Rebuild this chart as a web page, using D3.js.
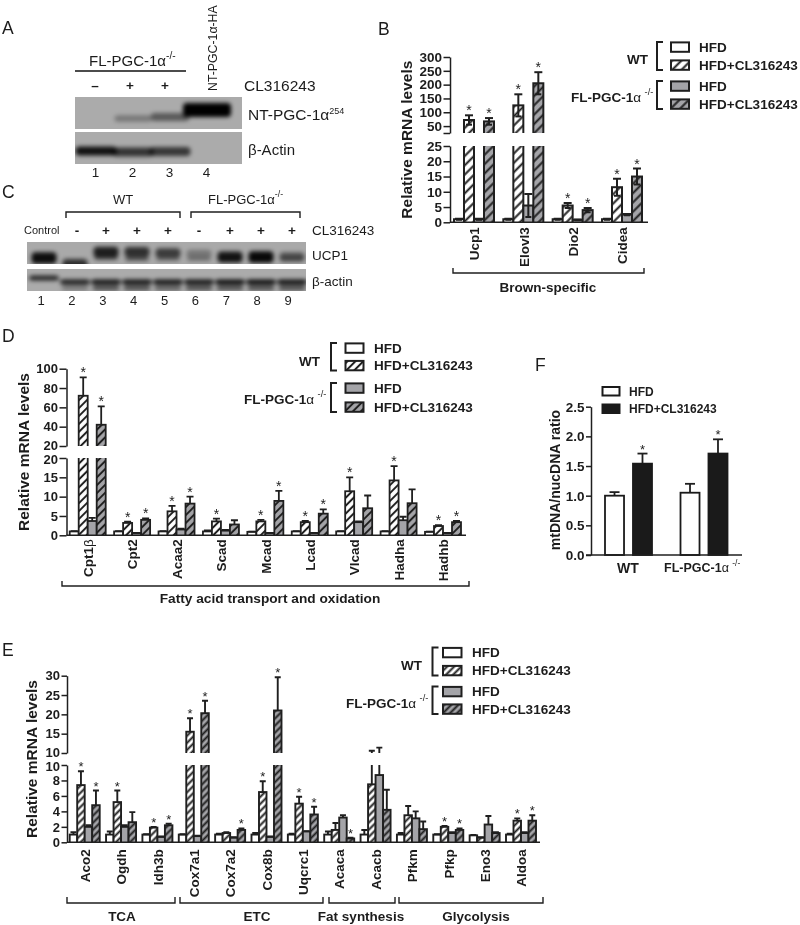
<!DOCTYPE html>
<html><head><meta charset="utf-8">
<script src="https://cdnjs.cloudflare.com/ajax/libs/d3/7.8.5/d3.min.js"></script>
<style>
html,body{margin:0;padding:0;background:#fff}
svg{display:block;opacity:.999}
text{font-family:"Liberation Sans",Arial,sans-serif;fill:#1c1c1c}
</style></head><body><div id="c"></div>
<script>
// ---------- DATA ----------
const seriesKeys = ["wtHfd","wtCl","koHfd","koCl"];
const legendLabels = ["HFD","HFD+CL316243"];

const bGenes = ["Ucp1","Elovl3","Dio2","Cidea"];
const bMeans = [[1,72,1,67],[1,125,5.5,205],[1,5.5,0.8,4],[1,11.5,2.5,15]];
const bErrs  = [[0.2,17,0.2,12],[0.2,40,3.8,40],[0.2,0.8,0.1,0.7],[0.2,2.8,0.2,2.6]];
const bStars = [[0,1,0,1],[0,1,0,1],[0,1,0,1],[0,1,0,1]];
const bTicksHigh = [25,50,100,150,200,250,300];
const bTicksLow = [0,5,10,15,20,25];

const dGenes = ["Cpt1β","Cpt2","Acaa2","Scad","Mcad","Lcad","Vlcad","Hadha","Hadhb"];
const dMeans = [[1,72,3.7,42],[1,3.2,0.6,4],[1,6.2,1.5,8.2],[1,3.6,1.2,2.8],[0.9,3.6,0.6,8.9],[1,3.4,0.6,5.6],[1,11.4,3.4,7],[1,14.2,3.9,8.3],[0.9,2.4,0.6,3.4]];
const dErrs  = [[0.1,19,0.8,19],[0.1,0.3,0.05,0.4],[0.1,1.4,0.2,1.8],[0.3,0.7,0.2,1.1],[0.05,0.4,0.05,2.6],[0.1,0.3,0.05,1.1],[0.1,3.6,0.2,3.3],[0.1,3.7,0.9,3.6],[0.05,0.2,0.05,0.3]];
const dStars = [[0,1,0,1],[0,1,0,1],[0,1,0,1],[0,1,0,0],[0,1,0,1],[0,1,0,1],[0,1,0,0],[0,1,0,0],[0,1,0,1]];
const dTicksHigh = [20,40,60,80,100];
const dTicksLow = [0,5,10,15,20];

const eGenes = ["Aco2","Ogdh","Idh3b","Cox7a1","Cox7a2","Cox8b","Uqcrc1","Acaca","Acacb","Pfkm","Pfkp","Eno3","Aldoa"];
const eMeans = [[1,7.4,2,4.8],[1,5.2,2,2.6],[1,1.9,0.7,2.2],[1,15.5,0.8,20.3],[1,1.2,0.6,1.6],[1,6.5,0.7,21],[1,5,1.4,3.6],[1,1.6,3.2,0.5],[1,7.5,8.7,4.2],[1,3.5,3.1,1.7],[1,2,1.2,1.6],[0.9,0.6,2.3,1.2],[1,2.8,1.2,2.8]];
const eErrs  = [[0.3,1.8,0.2,1.9],[0.4,1.5,0.2,1.3],[0.05,0.1,0.05,0.2],[0.05,3.5,0.05,3.2],[0.1,0.1,0.05,0.2],[0.2,1.4,0.05,8.6],[0.1,0.9,0.05,1],[0.4,0.9,0.3,0.1],[0.6,3.1,2.7,2.6],[0.2,1.2,0.9,1],[0.05,0.1,0.1,0.2],[0.05,0.05,1.1,0.1],[0.1,0.3,0.1,0.7]];
const eStars = [[0,1,0,1],[0,1,0,0],[0,1,0,1],[0,1,0,1],[0,0,0,1],[0,1,0,1],[0,1,0,1],[0,0,0,1],[0,0,0,0],[0,0,0,0],[0,1,0,1],[0,0,0,0],[0,1,0,1]];
const eTicksHigh = [10,15,20,25,30];
const eTicksLow = [0,2,4,6,8,10];

const fGroups = ["WT","FL-PGC-1α"];
const fSeries = ["HFD","HFD+CL316243"];
const fMeans = [[1.0,1.54],[1.05,1.71]];
const fErrs  = [[0.06,0.17],[0.15,0.24]];
const fStars = [[0,1],[0,1]];
const fTicks = [0,0.5,1,1.5,2,2.5];

// blot band intensities per lane (0..1)
const blotA1 = [0,0.3,0.48,1];
const blotA2 = [0.9,0.7,0.68,0];
const blotC1 = [0.92,0.72,0.82,0.72,0.65,0.3,0.88,0.95,0.55];
const blotC1b = [0,0,0.5,0.5,0.35,0.3,0.3,0.4,0.2];
const blotC2 = [0.8,0.85,0.9,0.9,0.9,0.9,0.95,0.95,0.92];
const blotC2b = [0,0.3,0.55,0.55,0.45,0.55,0.55,0.55,0.55];
const aMarks = ["–","+","+"];
const cMarks = ["-","+","+","+","-","+","+","+"];

// ---------- SETUP ----------
const W=800,H=925,INK="#1f1f1f",GRAY="#a4a4a8";
const svg=d3.select("#c").append("svg").attr("width",W).attr("height",H).attr("viewBox",[0,0,W,H]);
svg.append("rect").attr("width",W).attr("height",H).attr("fill","#fff");
const defs=svg.append("defs");
function hatch(id,bg,p0,sw){
  const p=defs.append("pattern").attr("id",id).attr("patternUnits","userSpaceOnUse")
    .attr("width",p0).attr("height",p0).attr("patternTransform","rotate(45)");
  p.append("rect").attr("width",p0).attr("height",p0).attr("fill",bg);
  p.append("line").attr("x1",p0/2).attr("x2",p0/2).attr("y1",0).attr("y2",p0).attr("stroke",INK).attr("stroke-width",sw);
}
// one pair of hatch fills per panel
function hatchFills(tag,p0,sw){
  hatch("hW"+tag,"#fff",p0,sw); hatch("hG"+tag,GRAY,p0,sw);
  return ["#fff",`url(#hW${tag})`,GRAY,`url(#hG${tag})`];
}
const fillsB=hatchFills("B",6.6,2), fillsD=hatchFills("D",5.6,2), fillsE=hatchFills("E",5,2);
defs.append("filter").attr("id","blur").attr("x","-30%").attr("y","-60%").attr("width","160%").attr("height","220%")
  .append("feGaussianBlur").attr("stdDeviation",2.3);

function txt(x,y,s,o={}){
  const t=svg.append("text").attr("x",x).attr("y",y).text(s)
    .attr("font-size",o.size||12).attr("text-anchor",o.anchor||"start").attr("dominant-baseline","central");
  if(o.bold)t.attr("font-weight",700);
  if(o.rot!=null)t.attr("transform",`rotate(${o.rot},${x},${y})`);
  return t;
}
// FL-PGC-1α-/- label, with the Greek letter and superscript in a light weight
function koLabel(x,y,o={}){
  const t=svg.append("text").attr("x",x).attr("y",y).attr("font-size",o.size||13.5)
    .attr("text-anchor",o.anchor||"start").attr("dominant-baseline","central");
  t.append("tspan").attr("font-weight",o.light?400:700).text("FL-PGC-1");
  t.append("tspan").attr("font-weight",400).text("α");
  t.append("tspan").attr("font-weight",400).attr("font-size",(o.size||13.5)*.68).attr("dy",-5).attr("dx",o.light?0:1).text(o.light?"-/-":" -/-");
  return t;
}
function bracketGroup(x0,x1,y,tick){
  svg.append("path").attr("d",d3.line()([[x0,y+tick],[x0,y],[x1,y],[x1,y+tick]]))
    .attr("fill","none").attr("stroke",INK).attr("stroke-width",1.4);
}

let clipN=0;
function clip(x,y,w,h){
  const id="cp"+(clipN++);
  defs.append("clipPath").attr("id",id).append("rect").attr("x",x).attr("y",y).attr("width",w).attr("height",h);
  return `url(#${id})`;
}

// ---------- BROKEN-AXIS GROUPED BARS ----------
function barPanel(c){
  const x0=d3.scalePoint().domain(c.genes).range([c.first,c.last]);
  const half=c.barW*2;
  const x1=d3.scaleBand().domain(seriesKeys).range([-half,half]);
  const high=d3.scaleLinear().domain(c.highDomain).range(c.highRange);
  const low=d3.scaleLinear().domain(c.lowDomain).range(c.lowRange);
  const rows=c.genes.flatMap((g,i)=>seriesKeys.map((s,j)=>({g,s,j,v:c.means[i][j],e:c.errs[i][j],star:c.stars[i][j]})));
  const cx=d=>x0(d.g)+x1(d.s)+x1.bandwidth()/2;
  const sw=c.sw||1.8;

  [[high,c.highTicks,c.highLabelMin],[low,c.lowTicks,-1]].forEach(([sc,ticks,min])=>{
    const range=sc.range();
    const isLow=sc===low;
    const top=isLow?range[1]:range[1]-16,bottom=range[0];
    const g=svg.append("g").attr("clip-path",clip(c.axisX+1,top,W,bottom-top));
    g.selectAll("rect").data(rows).join("rect")
      .attr("x",d=>x0(d.g)+x1(d.s)).attr("width",x1.bandwidth())
      .attr("y",d=>Math.min(sc(d.v),bottom+6)).attr("height",d=>Math.max(0,bottom+6-sc(d.v)))
      .attr("fill",d=>c.fills[d.j]).attr("stroke",INK).attr("stroke-width",sw);
    g.selectAll("line.stem").data(rows).join("line").attr("class","stem")
      .attr("x1",cx).attr("x2",cx)
      .attr("y1",d=>sc(c.both?d.v-d.e:d.v)).attr("y2",d=>sc(d.v+d.e))
      .attr("stroke",INK).attr("stroke-width",sw);
    if(c.both){
      g.selectAll("line.low").data(rows).join("line").attr("class","low")
        .attr("x1",d=>cx(d)-3).attr("x2",d=>cx(d)+3)
        .attr("y1",d=>sc(d.v-d.e)).attr("y2",d=>sc(d.v-d.e)).attr("stroke",INK).attr("stroke-width",sw);
    }
    g.selectAll("line.cap").data(rows).join("line").attr("class","cap")
      .attr("x1",d=>cx(d)-c.capW).attr("x2",d=>cx(d)+c.capW)
      .attr("y1",d=>sc(d.v+d.e)).attr("y2",d=>sc(d.v+d.e)).attr("stroke",INK).attr("stroke-width",sw);

    const ax=d3.axisLeft(sc).tickValues(ticks).tickSize(c.tick).tickSizeOuter(0).tickPadding(1.5)
      .tickFormat(v=>v>=min?d3.format("d")(v):"");
    const a=svg.append("g").attr("transform",`translate(${c.axisX},0)`).call(ax);
    a.selectAll("path,line").attr("stroke",INK).attr("stroke-width",1.5);
    a.selectAll("text").attr("font-size",c.tickFont).attr("font-weight",700).attr("fill",INK)
      .attr("font-family",'"Liberation Sans",Arial,sans-serif');
    // keep the two labels that meet at the axis break apart
    if(c.nudge){
      const edge=isLow?c.lowDomain[1]:c.highDomain[0];
      a.selectAll(".tick").filter(v=>v===edge).select("text").attr("y",isLow?c.nudge:-c.nudge);
    }
  });
  svg.selectAll(null).data(rows.filter(d=>d.star)).join("text")
    .attr("x",cx)
    .attr("y",d=>{const t=d.v+d.e;return (t>c.lowDomain[1]?high(t):low(t));})
    .attr("text-anchor","middle").attr("font-size",c.starSize||14).attr("fill","#333").text("*");
  svg.append("line").attr("x1",c.axisX).attr("x2",c.baseEnd).attr("y1",low(0)).attr("y2",low(0)).attr("stroke",INK).attr("stroke-width",1.6);
  const lab=svg.append("g").attr("transform",`translate(0,${low(0)})`)
    .call(d3.axisBottom(x0).tickSize(0).tickFormat(""));
  lab.select(".domain").remove();
  lab.selectAll(".tick text").each(function(g){
    const t=d3.select(this).attr("transform","rotate(-90)").attr("x",-c.labelGap).attr("y",0).attr("dy",".35em")
      .attr("text-anchor","end").attr("font-size",c.labelFont).attr("fill","#1c1c1c")
      .attr("font-family",'"Liberation Sans",Arial,sans-serif');
    const m=g.split("β");
    t.append("tspan").attr("font-weight",700).text(m[0]);
    if(m.length>1)t.append("tspan").attr("font-weight",400).text("β");
  });
  txt(c.titleX,(c.lowRange[0]+c.highRange[1])/2,"Relative mRNA levels",{size:c.titleSize,bold:true,rot:-90,anchor:"middle"});
}

function legendBlock(c){
  const fy=c.rows;
  fy.forEach((y,i)=>{
    svg.append("rect").attr("x",c.x).attr("y",y-4.6).attr("width",c.w).attr("height",9.4).attr("fill",c.fills[i]).attr("stroke",INK).attr("stroke-width",2);
    txt(c.tx,y,legendLabels[i%2],{size:13.5,bold:true});
  });
  [[0,1],[2,3]].forEach(([a,b])=>{
    svg.append("path").attr("d",d3.line()([[c.bx+6,fy[a]-5],[c.bx,fy[a]-5],[c.bx,fy[b]+5],[c.bx+6,fy[b]+5]]))
      .attr("fill","none").attr("stroke",INK).attr("stroke-width",2);
  });
  txt(c.wtX,c.wtY,"WT",{size:13.5,bold:true});
  koLabel(c.koX,c.koY);
}

// Panel B
barPanel({genes:bGenes,means:bMeans,errs:bErrs,stars:bStars,fills:fillsB,first:474,last:622,barW:10,capW:4,axisX:450,
  highDomain:[25,300],highRange:[133,57],lowDomain:[0,25],lowRange:[222.3,146],highTicks:bTicksHigh,lowTicks:bTicksLow,highLabelMin:50,
  tick:6.5,tickFont:13.5,baseEnd:648,labelGap:5,labelFont:13.5,titleX:407,titleSize:15.5,both:true,sw:2});
legendBlock({fills:fillsB,rows:[47,65,86,104],x:671,w:18,tx:699,bx:657,wtX:627,wtY:59,koX:571,koY:97});
bracketGroup(453,644,273,-5);
txt(548,287,"Brown-specific",{size:13.5,bold:true,anchor:"middle"});

// Panel D
barPanel({genes:dGenes,means:dMeans,errs:dErrs,stars:dStars,fills:fillsD,first:87.7,last:443,barW:9,capW:3.5,axisX:66.5,
  highDomain:[20,100],highRange:[446,368.7],lowDomain:[0,20],lowRange:[535.3,458],highTicks:dTicksHigh,lowTicks:dTicksLow,highLabelMin:0,
  tick:7,tickFont:13,nudge:1,baseEnd:466,labelGap:4,labelFont:13.5,titleX:23,titleSize:15.5,sw:1.8});
legendBlock({fills:fillsD,rows:[348,365.5,388,407],x:345.5,w:18,tx:374,bx:331,wtX:299,wtY:361,koX:244,koY:399});
bracketGroup(62,469,586,-5);
txt(270,598,"Fatty acid transport and oxidation",{size:13.7,bold:true,anchor:"middle"});

// Panel E
barPanel({genes:eGenes,means:eMeans,errs:eErrs,stars:eStars,fills:fillsE,first:84.7,last:521,barW:7.5,capW:3,axisX:67,
  highDomain:[10,30],highRange:[753,675.7],lowDomain:[0,10],lowRange:[842.3,765],highTicks:eTicksHigh,lowTicks:eTicksLow,highLabelMin:0,
  tick:5.5,tickFont:13,nudge:1,baseEnd:540,labelGap:7,labelFont:13.5,titleX:31,titleSize:15.5,starSize:13,sw:1.9});
legendBlock({fills:fillsE,rows:[652.5,670.5,691.5,709],x:443,w:18.5,tx:472,bx:432.5,wtX:401,wtY:665,koX:346,koY:703});
[[67,175],[180,323],[329,395],[399,543]].forEach(([a,b])=>bracketGroup(a,b,903,-6));
[[122,"TCA"],[257,"ETC"],[361,"Fat synthesis"],[476,"Glycolysis"]].forEach(([x,s])=>txt(x,916,s,{size:13.5,bold:true,anchor:"middle"}));

// Panel F
(function(){
  const xPos=d3.scalePoint().domain(fGroups).range([628.5,704]);
  const x1=d3.scaleBand().domain(fSeries).range([-23.5,23.5]).paddingInner(0.32);
  const y=d3.scaleLinear().domain([0,2.5]).range([555,406.7]);
  const rows=fGroups.flatMap((g,i)=>fSeries.map((s,j)=>({g,s,j,v:fMeans[i][j],e:fErrs[i][j],star:fStars[i][j]})));
  const cx=d=>xPos(d.g)+x1(d.s)+x1.bandwidth()/2;
  svg.selectAll(null).data(rows).join("line").attr("x1",cx).attr("x2",cx).attr("y1",d=>y(d.v)).attr("y2",d=>y(d.v+d.e)).attr("stroke",INK).attr("stroke-width",1.8);
  svg.selectAll(null).data(rows).join("line").attr("x1",d=>cx(d)-5).attr("x2",d=>cx(d)+5).attr("y1",d=>y(d.v+d.e)).attr("y2",d=>y(d.v+d.e)).attr("stroke",INK).attr("stroke-width",1.8);
  svg.selectAll(null).data(rows).join("rect").attr("x",d=>xPos(d.g)+x1(d.s)).attr("width",x1.bandwidth()).attr("y",d=>y(d.v)).attr("height",d=>y(0)-y(d.v))
    .attr("fill",d=>d.j?"#1a1a1a":"#fff").attr("stroke","#1a1a1a").attr("stroke-width",1.8);
  svg.selectAll(null).data(rows.filter(d=>d.star)).join("text").attr("x",cx).attr("y",d=>y(d.v+d.e)).attr("text-anchor","middle").attr("font-size",13).attr("fill","#333").text("*");
  const a=svg.append("g").attr("transform","translate(591,0)").call(d3.axisLeft(y).tickValues(fTicks).tickSize(5).tickSizeOuter(0).tickPadding(1.5).tickFormat(d3.format(".1f")));
  a.selectAll("path,line").attr("stroke",INK).attr("stroke-width",1.5);
  a.selectAll("text").attr("font-size",13.5).attr("font-weight",700).attr("fill",INK).attr("font-family",'"Liberation Sans",Arial,sans-serif');
  svg.append("line").attr("x1",586).attr("x2",742).attr("y1",y(0)).attr("y2",y(0)).attr("stroke",INK).attr("stroke-width",1.6);
  txt(555,480,"mtDNA/nucDNA ratio",{size:14,bold:true,rot:-90,anchor:"middle"});
  fSeries.forEach((s,i)=>{
    svg.append("rect").attr("x",602.5).attr("y",i?404.5:387).attr("width",17).attr("height",8.5).attr("fill",i?"#1a1a1a":"#fff").attr("stroke","#1a1a1a").attr("stroke-width",2);
    txt(629,i?409:391.5,s,{size:12,bold:true});
  });
  txt(628,567.5,"WT",{size:14,bold:true,anchor:"middle"});
  koLabel(664,567.5,{size:12.5});
})();

// ---------- BLOTS ----------
function blot(c){
  const cp=clip(c.x,c.y,c.w,c.h);
  svg.append("rect").attr("x",c.x).attr("y",c.y).attr("width",c.w).attr("height",c.h).attr("fill",c.bg||"#ababab");
  const g=svg.append("g").attr("clip-path",cp).append("g").attr("filter","url(#blur)");
  c.layers.forEach(l=>{
    const gw=l.growW||0,gh=l.grow||0;
    g.selectAll(null).data(l.values.map((v,i)=>({v,i}))).join("rect")
      .attr("x",d=>c.lanes(d.i+1)-(l.w+d.v*d.v*gw)/2).attr("width",d=>l.w+d.v*d.v*gw)
      .attr("y",d=>l.y(d.i)-(l.h+d.v*d.v*gh)/2).attr("height",d=>l.h+d.v*d.v*gh)
      .attr("rx",4).attr("fill","#060606").attr("opacity",d=>d.v);
  });
}
const lanesA=d3.scalePoint().domain([1,2,3,4]).range([96,207]);
blot({x:75,y:97,w:167,h:32,lanes:lanesA,layers:[{values:blotA1,w:36,h:6,grow:8,growW:12,y:i=>[118,118.5,117,110][i]}]});
blot({x:75,y:132,w:167,h:32,lanes:lanesA,layers:[{values:blotA2,w:41,h:9,y:i=>[151,152,151.5,151][i]}]});
const lanesC=d3.scalePoint().domain(d3.range(1,10)).range([44,292]);
blot({x:27,y:242,w:279,h:22,bg:"#a9a9a9",lanes:lanesC,layers:[
  {values:blotC1,w:25,h:8,grow:4,y:i=>[258,264,252,252,253,254,257,257,257][i]},
  {values:blotC1b,w:24,h:4,y:i=>[258,263,258,259,259,259,259,260,259][i]}]});
blot({x:27,y:269,w:279,h:22,bg:"#ababab",lanes:lanesC,layers:[
  {values:blotC2,w:30,h:5,y:i=>i?282:278},
  {values:blotC2b,w:27,h:5,y:()=>288}]});

// ---------- PANEL LETTERS + BLOT TEXT ----------
[["A",2,28],["B",378,29],["C",2,192],["D",2,336],["E",2,650],["F",535,365]].forEach(([s,x,y])=>txt(x,y,s,{size:17.5}));

koLabel(89,60,{size:15,light:true});
svg.append("line").attr("x1",75).attr("x2",186).attr("y1",71).attr("y2",71).attr("stroke","#111").attr("stroke-width",1.6);
const aLane=d3.scalePoint().domain([0,1,2]).range([95,165]);
aMarks.forEach((m,i)=>txt(aLane(i),85,m,{size:13.5,anchor:"middle",bold:true}));
txt(244,85.5,"CL316243",{size:15.5});
txt(213,91,"NT-PGC-1α-HA",{size:12.3,rot:-90});
const nt=txt(248,114.5,"NT-PGC-1α",{size:15.5});
nt.append("tspan").attr("font-size",9).attr("dy",-4).text("254");
txt(248,149.5,"β-Actin",{size:15});
["1","2","3","4"].forEach((s,i)=>txt(lanesA(i+1)-.5,172,s,{size:13.5,anchor:"middle"}));

txt(123,199,"WT",{size:13,anchor:"middle"});
koLabel(208,199,{size:13,light:true});
[[66,180],[191,300]].forEach(([a,b])=>bracketGroup(a,b,212,6));
txt(24,230,"Control",{size:11});
cMarks.forEach((m,i)=>txt(lanesC(i+2)+(i?0:2),230,m,{size:13.5,anchor:"middle",bold:true}));
txt(312,230,"CL316243",{size:13.5});
txt(312,255,"UCP1",{size:13.5});
txt(312,281,"β-actin",{size:13.5});
const numC=d3.scalePoint().domain(d3.range(1,10)).range([41,288]);
numC.domain().forEach(n=>txt(numC(n),300,String(n),{size:13,anchor:"middle"}));
</script></body></html>
